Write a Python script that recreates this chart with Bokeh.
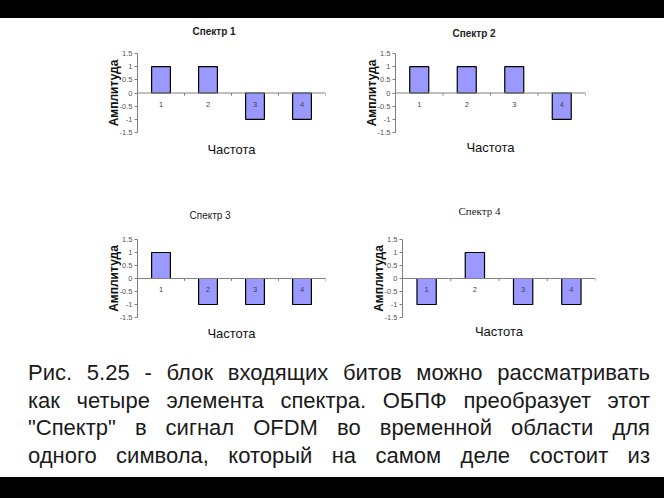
import html as _html
from bokeh.plotting import figure
from bokeh.models import FactorRange, Range1d, FixedTicker, CustomJSTickFormatter, Span, Title, Div, ColumnDataSource
from bokeh.layouts import column, row
from bokeh.embed import file_html
from bokeh.resources import INLINE
from bokeh.core.properties import value

# ---- data ----
categories = ["1", "2", "3", "4"]
titles = ["Спектр 1", "Спектр 2", "Спектр 3", "Спектр 4"]
spectrum1 = [1, 1, -1, -1]
spectrum2 = [1, 1, 1, -1]
spectrum3 = [1, -1, -1, -1]
spectrum4 = [-1, 1, -1, -1]
y_ticks = [-1.5, -1, -0.5, 0, 0.5, 1, 1.5]
y_label = "Амплитуда"
x_label = "Частота"
caption_lines = [
    "Рис. 5.25 - блок входящих битов можно рассматривать",
    "как четыре элемента спектра. ОБПФ преобразует этот",
    "\"Спектр\" в сигнал OFDM во временной области для",
    "одного символа, который на самом деле состоит из",
]

SANS = "Liberation Sans"
SERIF = "Liberation Serif"


def make_chart(title, values, width, height, bl, fw, bt, fh,
               t_off, t_stand, x_stand, t_font=SANS, t_style="bold", t_size="10px"):
    p = figure(width=width, height=height,
               x_range=FactorRange(*categories), y_range=Range1d(-1.5, 1.5),
               x_axis_location=None, output_backend="svg", toolbar_location=None,
               min_border_left=bl, min_border_right=width - bl - fw,
               min_border_top=bt, min_border_bottom=height - bt - fh)
    p.outline_line_color = None
    p.grid.grid_line_color = None
    p.background_fill_color = "white"
    p.border_fill_color = "white"

    p.title.text = title
    p.title.align = "left"
    p.title.offset = t_off
    p.title.standoff = t_stand
    p.title.text_font = t_font
    p.title.text_font_style = t_style
    p.title.text_font_size = t_size
    p.title.text_color = "#222222"

    p.add_layout(Title(text=x_label, align="center", standoff=x_stand,
                       text_font=SANS, text_font_style="normal",
                       text_font_size="13px", text_color="#111111"), "below")

    ax = p.yaxis[0]
    ax.ticker = FixedTicker(ticks=y_ticks)
    ax.formatter = CustomJSTickFormatter(code="return tick.toString();")
    ax.axis_line_color = "#808080"
    ax.major_tick_line_color = "#808080"
    ax.major_tick_out = 3
    ax.major_tick_in = 0
    ax.minor_tick_line_color = None
    ax.major_label_standoff = 2
    ax.major_label_text_font = SANS
    ax.major_label_text_font_size = "7.5px"
    ax.major_label_text_color = "#555555"
    ax.axis_label = y_label
    ax.axis_label_standoff = -4
    ax.axis_label_text_font = SANS
    ax.axis_label_text_font_style = "bold"
    ax.axis_label_text_font_size = "12px"
    ax.axis_label_text_color = "#111111"

    src = ColumnDataSource(dict(cat=categories, val=values))
    p.add_layout(Span(location=0, dimension="width", line_color="#808080", line_width=1))
    p.vbar(x="cat", top="val", bottom=0, width=0.4, source=src,
           fill_color="#9999FF", line_color="black", line_width=1.2)
    bounds = list(range(1, len(categories) + 1))
    p.segment(x0=bounds, y0=0, x1=bounds, y1=-0.1, line_color="#808080", line_width=1)
    p.text(x="cat", y=0, text="cat", source=src, y_offset=11,
           text_align="center", text_baseline="middle",
           text_font=value(SANS), text_font_size="7.5px", text_color="#444444")
    return p


f1 = make_chart(titles[0], spectrum1, 332, 180, 137, 188, 53, 79, 55, 34, 15)
f2 = make_chart(titles[1], spectrum2, 332, 180, 63, 190, 53, 79, 57, 29, 11)
f3 = make_chart(titles[2], spectrum3, 332, 170, 137, 188, 58, 79, 52, 38, 12,
                t_style="normal")
f4 = make_chart(titles[3], spectrum4, 332, 170, 70, 193, 58, 79, 56, 45, 8,
                t_font=SERIF, t_style="normal", t_size="11px")

lines_html = "".join(
    '<div style="text-align:justify;text-align-last:justify;white-space:normal;">%s</div>'
    % _html.escape(line) for line in caption_lines)
bands = ('<div style="position:fixed;left:0;top:0;width:664px;height:18px;background:#000;z-index:1000;"></div>'
         '<div style="position:fixed;left:0;top:477px;width:664px;height:21px;background:#000;z-index:1000;"></div>')
text_html = ('<div style="font-family:\'Liberation Sans\',Arial,sans-serif;font-size:22px;line-height:27.5px;'
             'color:#1a1a1a;padding:4px 5px 0 23px;width:650px;box-sizing:border-box;">%s</div>%s'
             % (lines_html, bands))
caption = Div(text=text_html, width=664, height=146)

layout = column(row(f1, f2), row(f3, f4), caption)

open("out.html", "w").write(file_html(layout, INLINE))
